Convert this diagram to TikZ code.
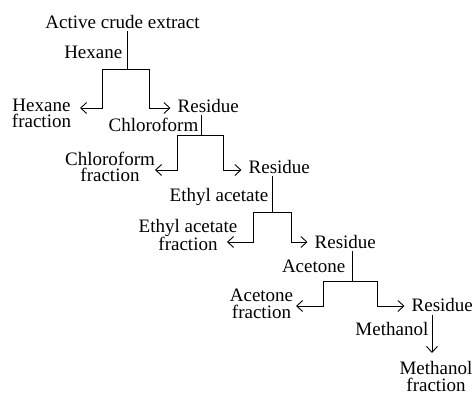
\documentclass[tikz,border=0pt]{standalone}
\usepackage{fontspec}
\setmainfont{Liberation Serif}
\usetikzlibrary{arrows.meta,positioning}
\tikzset{
  txt/.style={inner sep=3pt, font=\fontsize{19}{16.5}\selectfont},
  frac/.style={txt, align=center},
  stem/.style={line width=0.9pt},
  flow/.style={stem, -{Straight Barb[length=6pt,width=11pt]}},
  toward/.style={flow, shorten >=4pt}
}
\begin{document}
\begin{tikzpicture}[x=1pt,y=-1pt]
\useasboundingbox (0,0) rectangle (474,394);
% extract and solvent steps
\node[txt,anchor=base] (crude) at (122.5,28) {Active crude extract};
\node[txt,anchor=base east] (hex) at (125.5,58) {Hexane};
\node[frac] (hexfrac) at (41.5,113.5) {Hexane\\fraction};
\node[txt,anchor=base west] (res1) at (174.5,112) {Residue};
\node[txt,anchor=base east] (chl) at (201.5,131.5) {Chloroform};
\node[frac] (chlfrac) at (110,167) {Chloroform\\fraction};
\node[txt,anchor=base west] (res2) at (245.5,173) {Residue};
\node[txt,anchor=base east] (ea) at (271.5,201.5) {Ethyl acetate};
\node[frac] (eafrac) at (188,235) {Ethyl acetate\\fraction};
\node[txt,anchor=base west] (res3) at (311.5,248) {Residue};
\node[txt,anchor=base east] (ace) at (348.5,272.5) {Acetone};
\node[frac] (acefrac) at (261.5,304) {Acetone\\fraction};
\node[txt,anchor=base west] (res4) at (408.5,311.5) {Residue};
\node[txt,anchor=base east] (meth) at (431.5,335.5) {Methanol};
\node[frac] (methfrac) at (436,376.5) {Methanol\\fraction};
% junctions, legs and tips
\coordinate (j1) at (127,69);   \coordinate (l1) at (102,108);   \coordinate (r1) at (149,108);   \coordinate (f1) at (80,108);
\coordinate (j2) at (201.5,135); \coordinate (l2) at (177.5,170); \coordinate (r2) at (223,170); \coordinate (f2) at (155,170);
\coordinate (j3) at (272,212);  \coordinate (l3) at (253,242);   \coordinate (r3) at (291,242);   \coordinate (f3) at (227,242);
\coordinate (j4) at (352,281);  \coordinate (l4) at (323,306);   \coordinate (r4) at (377,306);   \coordinate (f4) at (296,306);
\coordinate (j5) at (432,353);
% split into fraction and residue
\draw[stem] (crude.south -| j1) -- (j1);
\draw[flow] (j1) -| (l1) -- (f1);
\draw[toward] (j1) -| (r1) -- (res1.west |- r1);
\draw[stem] (res1.south -| j2) -- (j2);
\draw[flow] (j2) -| (l2) -- (f2);
\draw[toward] (j2) -| (r2) -- (res2.west |- r2);
\draw[stem] (res2.south -| j3) -- (j3);
\draw[flow] (j3) -| (l3) -- (f3);
\draw[toward] (j3) -| (r3) -- (res3.west |- r3);
\draw[stem] (res3.south -| j4) -- (j4);
\draw[flow] (j4) -| (l4) -- (f4);
\draw[toward] (j4) -| (r4) -- (res4.west |- r4);
\draw[flow] (res4.south -| j5) -- (j5);
\end{tikzpicture}
\end{document}
